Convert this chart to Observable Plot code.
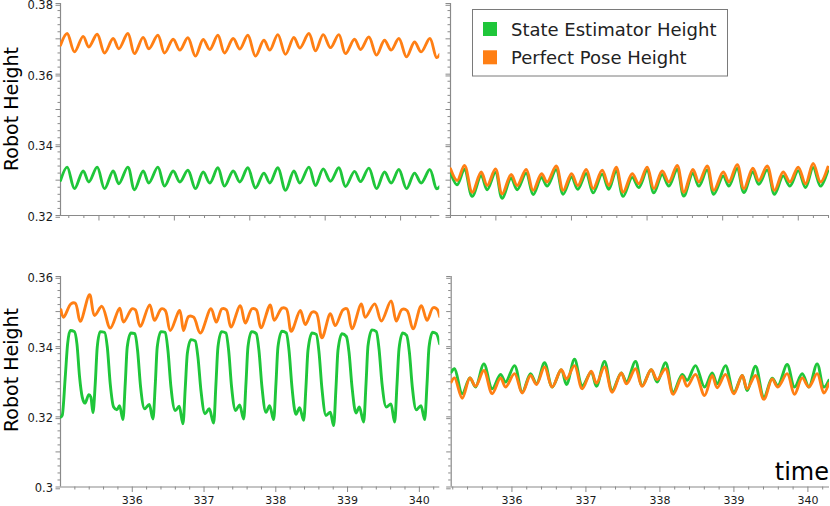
<!DOCTYPE html>
<html><head><meta charset="utf-8">
<script src="https://cdn.jsdelivr.net/npm/d3@7"></script>
<script src="https://cdn.jsdelivr.net/npm/@observablehq/plot@0.6"></script>
<style>
body{margin:0;background:#fff;}
#wrap{position:relative;width:830px;height:506px;overflow:hidden;background:#fff;font-family:"DejaVu Sans",sans-serif;}
.pnl{position:absolute;}
.pnl svg{overflow:visible;}
#over{position:absolute;left:0;top:0;}
</style></head>
<body><div id="wrap"></div>
<script>
// ---------- data (time in s, height in m) ----------
const seriesNames = ["State Estimator Height", "Perfect Pose Height"];
const seriesColors = ["#1fc63a", "#ff7f14"];

const tlTime = [335.490,335.578,335.676,335.790,335.866,335.976,336.074,336.188,336.264,336.383,336.471,336.586,336.662,336.781,336.870,336.984,337.073,337.179,337.280,337.382,337.470,337.577,337.665,337.780,337.868,337.974,338.076,338.187,338.266,338.372,338.474,338.585,338.664,338.784,338.872,338.974,339.071,339.181,339.270,339.389,339.469,339.579,339.681,339.787,339.875,339.977,340.079,340.185,340.273,340.388,340.477,340.521];
const tlOrange = [0.3682,0.3715,0.3663,0.3707,0.3677,0.3713,0.3660,0.3701,0.3672,0.3715,0.3658,0.3704,0.3672,0.3710,0.3660,0.3699,0.3668,0.3703,0.3651,0.3698,0.3670,0.3710,0.3660,0.3701,0.3671,0.3710,0.3651,0.3696,0.3668,0.3712,0.3656,0.3704,0.3674,0.3715,0.3666,0.3712,0.3675,0.3712,0.3658,0.3699,0.3670,0.3705,0.3654,0.3696,0.3668,0.3701,0.3649,0.3691,0.3663,0.3701,0.3647,0.3656];
const tlGreen = [0.3299,0.3337,0.3276,0.3326,0.3295,0.3337,0.3276,0.3326,0.3290,0.3337,0.3273,0.3326,0.3292,0.3337,0.3283,0.3326,0.3295,0.3328,0.3276,0.3323,0.3292,0.3335,0.3283,0.3326,0.3295,0.3335,0.3278,0.3320,0.3292,0.3335,0.3271,0.3326,0.3292,0.3337,0.3285,0.3332,0.3297,0.3335,0.3282,0.3325,0.3296,0.3334,0.3276,0.3323,0.3292,0.3330,0.3276,0.3320,0.3292,0.3330,0.3276,0.3282];

const trTime = [335.400,335.488,335.585,335.687,335.806,335.885,335.995,336.083,336.202,336.282,336.401,336.493,336.604,336.679,336.798,336.890,337.001,337.084,337.195,337.287,337.406,337.494,337.591,337.684,337.803,337.891,338.001,338.090,338.200,338.288,338.398,338.486,338.606,338.685,338.795,338.883,339.007,339.082,339.192,339.280,339.399,339.478,339.589,339.686,339.800,339.889,339.999,340.096,340.197,340.294,340.391];
const trOrange = [0.3332,0.3299,0.3342,0.3266,0.3323,0.3285,0.3332,0.3261,0.3316,0.3285,0.3330,0.3271,0.3318,0.3295,0.3340,0.3271,0.3318,0.3285,0.3330,0.3276,0.3328,0.3285,0.3337,0.3266,0.3318,0.3290,0.3337,0.3276,0.3326,0.3295,0.3342,0.3266,0.3330,0.3295,0.3340,0.3271,0.3323,0.3295,0.3344,0.3276,0.3334,0.3299,0.3340,0.3271,0.3323,0.3295,0.3337,0.3290,0.3347,0.3295,0.3337];
const trGreen = [0.3321,0.3287,0.3331,0.3254,0.3313,0.3273,0.3322,0.3249,0.3306,0.3273,0.3320,0.3259,0.3308,0.3283,0.3330,0.3260,0.3309,0.3274,0.3319,0.3264,0.3317,0.3274,0.3327,0.3254,0.3308,0.3279,0.3328,0.3264,0.3316,0.3283,0.3331,0.3255,0.3320,0.3283,0.3329,0.3260,0.3312,0.3283,0.3333,0.3265,0.3324,0.3288,0.3329,0.3260,0.3312,0.3283,0.3327,0.3279,0.3336,0.3283,0.3327];

const blGreenTime = [335.001,335.024,335.066,335.099,335.136,335.192,335.229,335.266,335.303,335.340,335.396,335.424,335.452,
335.484,335.512,335.554,335.614,335.652,335.693,335.740,335.786,335.823,335.870,
335.902,335.930,335.981,336.037,336.074,336.116,336.172,336.237,336.288,
336.321,336.348,336.400,336.460,336.497,336.539,336.599,336.655,336.706,
336.739,336.767,336.818,336.878,336.915,336.957,337.013,337.073,337.134,
337.166,337.194,337.245,337.305,337.343,337.384,337.440,337.496,337.552,
337.584,337.612,337.663,337.728,337.765,337.807,337.863,337.914,337.970,
338.002,338.030,338.086,338.146,338.184,338.225,338.281,338.332,338.388,
338.420,338.448,338.504,338.564,338.602,338.643,338.699,338.760,338.806,
338.839,338.866,338.922,338.983,339.020,339.062,339.117,339.164,339.224,
339.257,339.285,339.340,339.401,339.438,339.480,339.540,339.605,339.656,
339.689,339.717,339.768,339.823,339.861,339.902,339.958,340.023,340.074,
340.107,340.135,340.186,340.237,340.283];
const blGreen = [0.3199,0.3204,0.3313,0.3408,0.3446,0.3443,0.3408,0.3313,0.3256,0.3239,0.3263,0.3256,0.3212,
0.3294,0.3399,0.3443,0.3441,0.3399,0.3294,0.3228,0.3220,0.3232,0.3192,
0.3294,0.3399,0.3439,0.3437,0.3389,0.3285,0.3223,0.3235,0.3194,
0.3294,0.3399,0.3443,0.3441,0.3389,0.3285,0.3218,0.3230,0.3180,
0.3285,0.3380,0.3420,0.3416,0.3370,0.3275,0.3209,0.3223,0.3182,
0.3294,0.3399,0.3443,0.3439,0.3389,0.3285,0.3218,0.3234,0.3194,
0.3294,0.3399,0.3443,0.3437,0.3389,0.3285,0.3213,0.3232,0.3192,
0.3294,0.3399,0.3444,0.3439,0.3389,0.3285,0.3207,0.3226,0.3190,
0.3285,0.3389,0.3439,0.3435,0.3384,0.3280,0.3204,0.3213,0.3175,
0.3285,0.3389,0.3437,0.3429,0.3384,0.3285,0.3211,0.3228,0.3185,
0.3294,0.3403,0.3448,0.3443,0.3394,0.3294,0.3228,0.3237,0.3185,
0.3294,0.3394,0.3439,0.3432,0.3384,0.3285,0.3220,0.3232,0.3192,
0.3294,0.3399,0.3441,0.3437,0.3408];
const blOrangeTime = [335.006,335.043,335.145,335.206,335.275,335.405,335.475,335.577,335.693,335.823,335.879,335.995,336.042,336.111,336.242,336.311,336.404,336.460,336.530,336.660,336.715,336.785,336.855,336.948,337.096,337.171,337.250,337.310,337.375,337.505,337.575,337.668,337.728,337.793,337.923,337.979,338.086,338.146,338.216,338.341,338.411,338.504,338.564,338.643,338.760,338.829,338.936,338.992,339.062,339.192,339.247,339.378,339.470,339.605,339.679,339.758,339.828,339.912,340.028,340.107,340.191,340.246,340.283];
const blOrange = [0.3505,0.3484,0.3522,0.3524,0.3472,0.3548,0.3489,0.3515,0.3453,0.3510,0.3470,0.3508,0.3505,0.3458,0.3519,0.3475,0.3508,0.3503,0.3446,0.3503,0.3446,0.3486,0.3484,0.3439,0.3508,0.3470,0.3508,0.3505,0.3456,0.3517,0.3467,0.3508,0.3505,0.3454,0.3519,0.3475,0.3510,0.3508,0.3444,0.3503,0.3463,0.3498,0.3496,0.3425,0.3494,0.3460,0.3505,0.3508,0.3451,0.3522,0.3484,0.3522,0.3473,0.3530,0.3473,0.3506,0.3503,0.3451,0.3517,0.3475,0.3511,0.3507,0.3486];

const brTime = [335.179,335.224,335.328,335.432,335.508,335.621,335.733,335.846,335.914,336.035,336.139,336.251,336.332,336.441,336.544,336.666,336.738,336.846,336.950,337.071,337.143,337.251,337.355,337.477,337.549,337.670,337.760,337.882,337.963,338.076,338.179,338.301,338.368,338.481,338.603,338.706,338.774,338.886,338.999,339.112,339.179,339.292,339.405,339.517,339.594,339.720,339.819,339.923,340.013,340.125,340.215,340.283];
const brGreen = [0.3327,0.3337,0.3266,0.3311,0.3285,0.3351,0.3280,0.3321,0.3299,0.3346,0.3270,0.3323,0.3294,0.3354,0.3285,0.3334,0.3292,0.3364,0.3289,0.3327,0.3287,0.3358,0.3275,0.3325,0.3299,0.3358,0.3289,0.3334,0.3299,0.3354,0.3270,0.3321,0.3304,0.3346,0.3285,0.3325,0.3294,0.3346,0.3270,0.3318,0.3275,0.3344,0.3256,0.3310,0.3289,0.3349,0.3285,0.3323,0.3285,0.3351,0.3285,0.3304];
const brOrange = [0.3299,0.3311,0.3253,0.3311,0.3287,0.3332,0.3266,0.3311,0.3285,0.3323,0.3268,0.3318,0.3292,0.3342,0.3285,0.3334,0.3308,0.3346,0.3280,0.3330,0.3296,0.3342,0.3270,0.3325,0.3294,0.3337,0.3287,0.3334,0.3306,0.3337,0.3264,0.3315,0.3287,0.3321,0.3261,0.3318,0.3283,0.3321,0.3266,0.3318,0.3280,0.3318,0.3250,0.3308,0.3285,0.3323,0.3264,0.3311,0.3285,0.3323,0.3268,0.3296];

const xLabelTicks = [336, 337, 338, 339, 340];
const yTicksTop = [0.32, 0.34, 0.36, 0.38];
const yTicksBottom = [0.30, 0.32, 0.34, 0.36];
const yAxisTitle = "Robot Height";
const xAxisTitle = "time";

// ---------- drawing ----------
const axisColor = "#8a8a8a";
const textColor = "#1a1a1a";
const fmtY = d => String(+d.toFixed(2));

function zip(t, v) { return t.map((x, i) => ({t: x, v: v[i]})); }

function panel(o) {
  const [x0, x1] = o.xDomain, [y0, y1] = o.yDomain;
  const xMinor = d3.range(Math.ceil(x0 * 5), Math.floor(x1 * 5) + 1).map(k => k / 5).filter(v => Math.abs(v - Math.round(v)) > 1e-6);
  const xMajor = xLabelTicks.filter(v => v >= x0 && v <= x1);
  const yMinor = d3.range(Math.round(y0 * 500), Math.round(y1 * 500) + 1).map(k => k / 500).filter(v => Math.abs(v * 100 - Math.round(v * 100)) > 1e-6);
  const yMid = d3.range(Math.round(y0 * 100), Math.round(y1 * 100) + 1).map(k => k / 100);
  const blank = () => "";
  const marks = [
    Plot.axisY(yMinor, {tickSize: 2.5, tickFormat: blank, stroke: axisColor, label: null}),
    Plot.axisY(yMid, {tickSize: 4.5, tickFormat: blank, stroke: axisColor, label: null}),
    Plot.axisY(o.yTicks, {tickSize: 4.5, tickPadding: 3, dy: 1.8, tickFormat: o.yLabels ? fmtY : blank, stroke: axisColor, fill: textColor, fontSize: 11.5, label: null}),
    Plot.axisX(xMinor, {tickSize: 3, tickFormat: blank, stroke: axisColor, label: null}),
    Plot.axisX(xMajor, {tickSize: 5.5, tickPadding: 4, tickFormat: o.xLabels ? (d => String(d)) : blank, stroke: axisColor, fill: textColor, fontSize: 11, label: null}),
    Plot.ruleX([x0], {stroke: axisColor, strokeWidth: 1.2}),
    Plot.ruleY([y0], {stroke: axisColor, strokeWidth: 1.2})
  ];
  o.series.forEach((s, i) => {
    marks.push(Plot.line(s, {x: "t", y: "v", stroke: seriesColors[i], strokeWidth: 2.9, curve: o.curves ? o.curves[i] : "catmull-rom", clip: true}));
  });
  const chart = Plot.plot({
    width: o.width, height: o.height,
    marginLeft: o.mL, marginRight: o.mR, marginTop: o.mT, marginBottom: o.mB,
    x: {domain: o.xDomain}, y: {domain: o.yDomain},
    style: {fontFamily: "DejaVu Sans", background: "transparent", overflow: "visible"},
    marks
  });
  const div = document.createElement("div");
  div.className = "pnl";
  div.style.left = o.left + "px";
  div.style.top = o.top + "px";
  div.appendChild(chart);
  document.getElementById("wrap").appendChild(div);
}

panel({left: 0, top: -7, width: 445, height: 242, mL: 60, mR: 5.7, mT: 10, mB: 20,
  xDomain: [335.49, 340.52], yDomain: [0.32, 0.38], yTicks: yTicksTop, yLabels: true, xLabels: false,
  series: [zip(tlTime, tlGreen), zip(tlTime, tlOrange)]});
panel({left: 440, top: -7, width: 390, height: 242, mL: 10, mR: 1, mT: 10, mB: 20,
  xDomain: [335.40, 340.413], yDomain: [0.32, 0.38], yTicks: yTicksTop, yLabels: false, xLabels: false,
  series: [zip(trTime, trGreen), zip(trTime, trOrange)]});
panel({left: 0, top: 266, width: 445, height: 240.5, mL: 60, mR: 5.7, mT: 10, mB: 20,
  xDomain: [335.0, 340.285], yDomain: [0.30, 0.36], yTicks: yTicksBottom, yLabels: true, xLabels: true,
  series: [zip(blGreenTime, blGreen), zip(blOrangeTime, blOrange)], curves: ["monotone-x", "catmull-rom"]});
panel({left: 440, top: 266, width: 390, height: 240.5, mL: 10.7, mR: 1, mT: 10, mB: 20,
  xDomain: [335.179, 340.292], yDomain: [0.30, 0.36], yTicks: yTicksBottom, yLabels: false, xLabels: true,
  series: [zip(brTime, brGreen), zip(brTime, brOrange)]});

// overlay: axis titles + legend
const svg = d3.select("#wrap").append("svg").attr("id", "over")
  .attr("width", 830).attr("height", 506)
  .style("font-family", "DejaVu Sans");
[109, 370].forEach(cy => {
  svg.append("text").attr("transform", `translate(18,${cy}) rotate(-90)`)
    .attr("text-anchor", "middle").attr("font-size", 19).attr("fill", "#000").text(yAxisTitle);
});
svg.append("text").attr("x", 829).attr("y", 480).attr("text-anchor", "end")
  .attr("font-size", 24).attr("fill", "#000").text(xAxisTitle);
const lg = svg.append("g");
lg.append("rect").attr("x", 472.5).attr("y", 9.5).attr("width", 255).attr("height", 66.5)
  .attr("fill", "#fff").attr("stroke", "#7a7a7a").attr("stroke-width", 1);
seriesNames.forEach((name, i) => {
  lg.append("rect").attr("x", 483).attr("y", 22 + i * 28.3).attr("width", 14).attr("height", 14).attr("fill", seriesColors[i]);
  lg.append("text").attr("x", 511).attr("y", 35.8 + i * 28.5).attr("font-size", 18).attr("fill", "#222").text(name);
});
</script></body></html>
